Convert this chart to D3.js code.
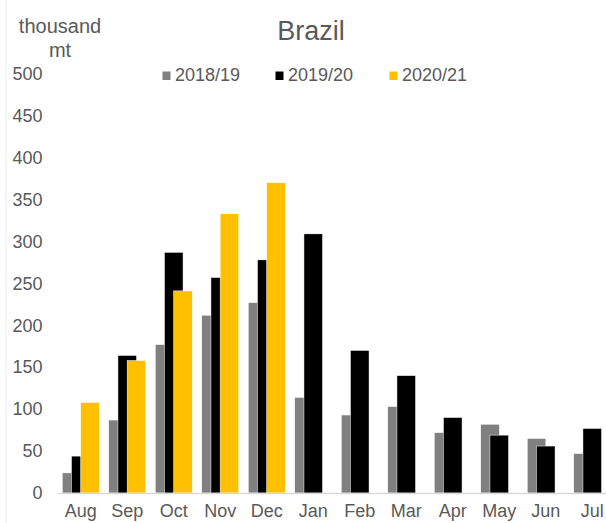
<!DOCTYPE html>
<html>
<head>
<meta charset="utf-8">
<script src="https://cdn.jsdelivr.net/npm/d3@7/dist/d3.min.js"></script>
<style>
  body { margin: 0; background: #fff; }
  svg { display: block; font-family: "Liberation Sans", Arial, sans-serif; overflow: hidden; }
</style>
</head>
<body>
<div id="chart"></div>
<script>
// data
const months = ["Aug", "Sep", "Oct", "Nov", "Dec", "Jan", "Feb", "Mar", "Apr", "May", "Jun", "Jul"];
const seasons = ["2018/19", "2019/20", "2020/21"];
const v2018 = [24, 87, 177, 212, 227, 114, 93, 103, 72, 82, 65, 47];
const v2019 = [44, 164, 287, 257, 278, 309, 170, 140, 90, 69, 56, 77];
const v2020 = [108, 158, 241, 333, 370];
const yTicks = [0, 50, 100, 150, 200, 250, 300, 350, 400, 450, 500];

const colors = ["#808080", "#000000", "#FFC000"];
const textColor = "#595959";

const W = 606, H = 523;
const plotLeft = 57.5, base = 493, plotTop = 73.7;

const svg = d3.select("#chart").append("svg")
	.attr("width", W)
	.attr("height", H);

// faint chart border on the left
svg.append("line")
	.attr("x1", 6).attr("x2", 6).attr("y1", 0).attr("y2", H)
	.attr("stroke", "#ececec");

const x = d3.scaleBand().domain(months).range([plotLeft, plotLeft + 46.5 * months.length]).padding(0);
const y = d3.scaleLinear().domain([0, 500]).range([base, plotTop]);

const bw = x.bandwidth() * 0.4;
const step = bw * 0.495;
const groupW = bw + step * 2;

const series = [v2018, v2019, v2020];
series.forEach((vals, si) => {
	svg.append("g").selectAll("rect")
		.data(vals.map((v, i) => ({ m: months[i], v: v })))
		.enter().append("rect")
		.attr("x", d => x(d.m) + x.bandwidth() / 2 - groupW / 2 + si * step)
		.attr("y", d => y(d.v))
		.attr("width", bw)
		.attr("height", d => base - y(d.v))
		.attr("fill", colors[si])
		.attr("stroke", "#fff")
		.attr("stroke-width", 0.5);
});

// y axis
const yAxis = svg.append("g")
	.attr("transform", "translate(" + plotLeft + ",0)")
	.call(d3.axisLeft(y).tickValues(yTicks).tickSize(0).tickPadding(15));
yAxis.select(".domain").remove();
yAxis.selectAll("text")
	.attr("fill", textColor)
	.style("font-size", "18px")
	.style("font-family", "Liberation Sans, Arial, sans-serif");

// x axis
const xAxis = svg.append("g")
	.attr("transform", "translate(0," + base + ")")
	.call(d3.axisBottom(x).tickSize(0).tickSizeOuter(0).tickPadding(11.5));
xAxis.select(".domain").attr("stroke", "#d9d9d9").attr("stroke-width", 1.5);
xAxis.selectAll("text")
	.attr("fill", textColor)
	.style("font-size", "18px")
	.style("font-family", "Liberation Sans, Arial, sans-serif");

// title
svg.append("text")
	.attr("x", 311).attr("y", 39.5)
	.attr("text-anchor", "middle")
	.attr("fill", textColor)
	.style("font-size", "27px")
	.text("Brazil");

// unit label
const unit = svg.append("text")
	.attr("text-anchor", "middle")
	.attr("fill", textColor)
	.style("font-size", "20px");
unit.append("tspan").attr("x", 60).attr("y", 32.5).text("thousand");
unit.append("tspan").attr("x", 60).attr("y", 56.5).text("mt");

// legend
const legX = [162.5, 275.5, 389.5];
const legend = svg.append("g").selectAll("g")
	.data(seasons)
	.enter().append("g")
	.attr("transform", (d, i) => "translate(" + legX[i] + ",0)");
legend.append("rect")
	.attr("x", 0).attr("y", 71.5)
	.attr("width", 8).attr("height", 8.5)
	.attr("fill", (d, i) => colors[i]);
legend.append("text")
	.attr("x", 12.5).attr("y", 81)
	.attr("fill", textColor)
	.style("font-size", "18px")
	.text(d => d);
</script>
</body>
</html>
